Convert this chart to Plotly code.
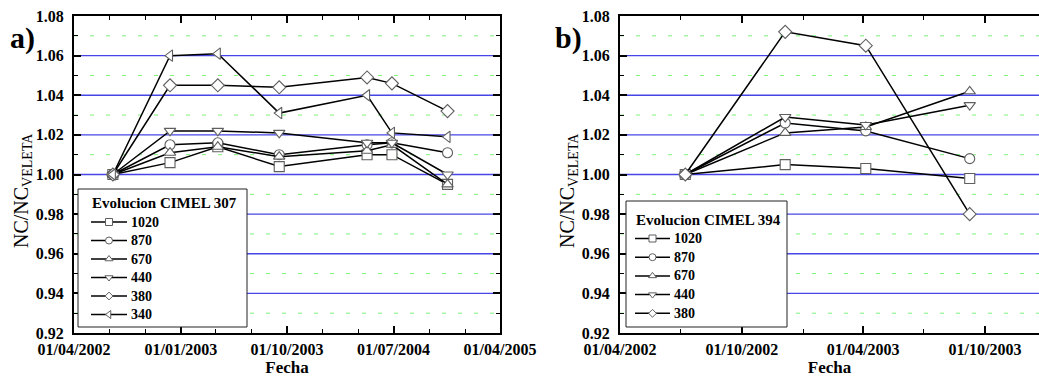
import plotly.graph_objects as go

# ---- data: CIMEL 307 (panel a) ----
fechas_307 = ["2002-07-10", "2002-12-04", "2003-04-06", "2003-09-11",
              "2004-04-24", "2004-06-27", "2004-11-17"]
c307_1020 = [1.000, 1.006, 1.014, 1.004, 1.010, 1.010, 0.995]
c307_870 = [1.000, 1.015, 1.016, 1.010, 1.015, 1.016, 1.011]
c307_670 = [1.000, 1.011, 1.014, 1.009, 1.012, 1.015, 0.995]
c307_440 = [1.000, 1.022, 1.022, 1.021, 1.016, 1.016, 1.000]
c307_380 = [1.000, 1.045, 1.045, 1.044, 1.049, 1.046, 1.032]
c307_340 = [1.000, 1.060, 1.061, 1.031, 1.040, 1.021, 1.019]

# ---- data: CIMEL 394 (panel b) ----
fechas_394 = ["2002-07-08", "2002-12-05", "2003-04-05", "2003-09-08"]
c394_1020 = [1.000, 1.005, 1.003, 0.998]
c394_870 = [1.000, 1.026, 1.022, 1.008]
c394_670 = [1.000, 1.021, 1.024, 1.042]
c394_440 = [1.000, 1.029, 1.025, 1.035]
c394_380 = [1.000, 1.072, 1.065, 0.980]

# horizontal reference levels
grid_major = [0.94, 0.96, 0.98, 1.00, 1.02, 1.04, 1.06]
grid_minor = [0.93, 0.95, 0.97, 0.99, 1.01, 1.03, 1.05, 1.07]

simbolos = {"1020": "square", "870": "circle", "670": "triangle-up",
            "440": "triangle-down", "380": "diamond", "340": "triangle-left"}
tamanos = {"1020": 10, "870": 10, "670": 10, "440": 10, "380": 10, "340": 10}
tamanos_clave = {"1020": 7, "870": 7, "670": 7, "440": 7, "380": 6, "340": 7}

serie_307 = {"1020": c307_1020, "870": c307_870, "670": c307_670,
             "440": c307_440, "380": c307_380, "340": c307_340}
serie_394 = {"1020": c394_1020, "870": c394_870, "670": c394_670,
             "440": c394_440, "380": c394_380}

W, H = 1039, 378
SERIF = "Liberation Serif"
MARK_LINE = "#5f5f5f"

fig = go.Figure()


def add_panel(fechas, series, xa, ya):
    for lam, vals in series.items():
        fig.add_trace(go.Scatter(
            x=fechas, y=vals, mode="lines+markers", xaxis=xa, yaxis=ya,
            name=lam, showlegend=False,
            line=dict(color="black", width=1.5),
            marker=dict(symbol=simbolos[lam], size=tamanos[lam], color="white",
                        line=dict(color=MARK_LINE, width=1.1)),
        ))


add_panel(fechas_307, serie_307, "x", "y")
add_panel(fechas_394, serie_394, "x2", "y2")

shapes = []
for xr, yr in (("x domain", "y"), ("x2 domain", "y2")):
    for v in grid_minor:
        shapes.append(dict(type="line", xref=xr, yref=yr, x0=0, x1=1, y0=v, y1=v,
                           layer="below",
                           line=dict(color="#7cf27c", width=1, dash="4px,12px")))
    for v in grid_major:
        shapes.append(dict(type="line", xref=xr, yref=yr, x0=0, x1=1, y0=v, y1=v,
                           layer="below",
                           line=dict(color="#4646e6", width=1.3)))

annotations = []


# Boxed legends drawn on a full-figure pixel overlay (x3/y3)
def add_legend(title, series, box, title_xy, key_x, text_x, y0, step):
    bx0, by0, bx1, by1 = box
    shapes.append(dict(type="rect", xref="x3", yref="y3", x0=bx0, x1=bx1,
                       y0=by0, y1=by1, layer="below", fillcolor="white",
                       line=dict(color="#222222", width=1)))
    annotations.append(dict(text=title, x=title_xy[0], y=title_xy[1],
                            xref="x3", yref="y3", xanchor="left", yanchor="middle",
                            showarrow=False,
                            font=dict(family=SERIF, size=15, color="black",
                                      weight="bold")))
    for i, lam in enumerate(series):
        yk = y0 + i * step
        fig.add_trace(go.Scatter(
            x=[key_x[0], key_x[1]], y=[yk, yk], mode="lines",
            xaxis="x3", yaxis="y3", showlegend=False, hoverinfo="skip",
            line=dict(color="black", width=1.5)))
        fig.add_trace(go.Scatter(
            x=[(key_x[0] + key_x[1]) / 2], y=[yk], mode="markers",
            xaxis="x3", yaxis="y3", showlegend=False, hoverinfo="skip",
            marker=dict(symbol=simbolos[lam], size=tamanos_clave[lam],
                        color="white", line=dict(color=MARK_LINE, width=1))))
        annotations.append(dict(text=lam, x=text_x, y=yk, xref="x3", yref="y3",
                                xanchor="left", yanchor="middle", showarrow=False,
                                font=dict(family=SERIF, size=14, color="black",
                                          weight="bold")))


add_legend("Evolucion CIMEL 307", serie_307, (78, 189, 247, 327), (90, 203),
           (91, 127), 129, 222, 18.5)
add_legend("Evolucion CIMEL 394", serie_394, (626, 201, 787, 327), (634, 220),
           (635, 670), 672, 238.5, 18.7)

y_title = "NC/NC<sub>VELETA</sub>"
for xt in (22, 568):
    annotations.append(dict(text=y_title, x=xt, y=191, xref="x3", yref="y3",
                            xanchor="center", yanchor="middle", textangle=-90,
                            showarrow=False,
                            font=dict(family=SERIF, size=20, color="black")))

annotations += [
    dict(text="a)", x=8 / W, y=1 - 38 / H, xref="paper", yref="paper",
         xanchor="left", yanchor="middle", showarrow=False,
         font=dict(family=SERIF, size=30, color="black", weight="bold")),
    dict(text="b)", x=553 / W, y=1 - 38 / H, xref="paper", yref="paper",
         xanchor="left", yanchor="middle", showarrow=False,
         font=dict(family=SERIF, size=30, color="black", weight="bold")),
]

y_dom = [1 - 333 / H, 1 - 16 / H]
tick_font = dict(family=SERIF, size=16, color="black", weight="bold")

common_y = dict(
    range=[0.92, 1.08], dtick=0.02, tick0=0.92, tickformat=".2f",
    showline=True, linecolor="black", linewidth=2, mirror="allticks",
    ticks="inside", ticklen=7, tickwidth=1.5, tickcolor="black",
    tickfont=tick_font, ticklabelstandoff=5,
    showgrid=False, zeroline=False, automargin=False,
    minor=dict(dtick=0.01, ticks="inside", ticklen=4, tickwidth=1.2,
               tickcolor="black", showgrid=False),
    domain=y_dom,
)

common_x = dict(
    type="date", tickformat="%d/%m/%Y",
    showline=True, linecolor="black", linewidth=2, mirror="allticks",
    ticks="inside", ticklen=7, tickwidth=1.5, tickcolor="black",
    tickfont=tick_font, ticklabelstandoff=1,
    showgrid=False, zeroline=False, automargin=False,
    title=dict(text="Fecha", font=dict(family=SERIF, size=17, color="black",
                                        weight="bold"), standoff=3),
)

fig.update_layout(
    width=W, height=H,
    margin=dict(l=0, r=0, t=0, b=0, autoexpand=False),
    paper_bgcolor="white", plot_bgcolor="rgba(0,0,0,0)",
    showlegend=False,
    shapes=shapes,
    annotations=annotations,
    xaxis=dict(common_x, domain=[74 / W, 500 / W], anchor="y",
               range=["2002-04-01", "2005-04-01"],
               tick0="2002-04-01", dtick="M9",
               minor=dict(dtick="M3", ticks="inside", ticklen=4, tickwidth=1.2,
                          tickcolor="black", showgrid=False)),
    yaxis=dict(common_y, anchor="x"),
    xaxis2=dict(common_x, domain=[620 / W, 1.0], anchor="y2",
                range=["2002-04-01", "2003-12-21"],
                tick0="2002-04-01", dtick="M6",
                minor=dict(dtick="M3", ticks="inside", ticklen=4, tickwidth=1.2,
                           tickcolor="black", showgrid=False)),
    yaxis2=dict(common_y, anchor="x2", mirror=False),
    xaxis3=dict(domain=[0, 1], range=[0, W], visible=False, anchor="y3",
                fixedrange=True, automargin=False),
    yaxis3=dict(domain=[0, 1], range=[H, 0], visible=False, anchor="x3",
                fixedrange=True, automargin=False),
)

fig.write_html("out.html")
